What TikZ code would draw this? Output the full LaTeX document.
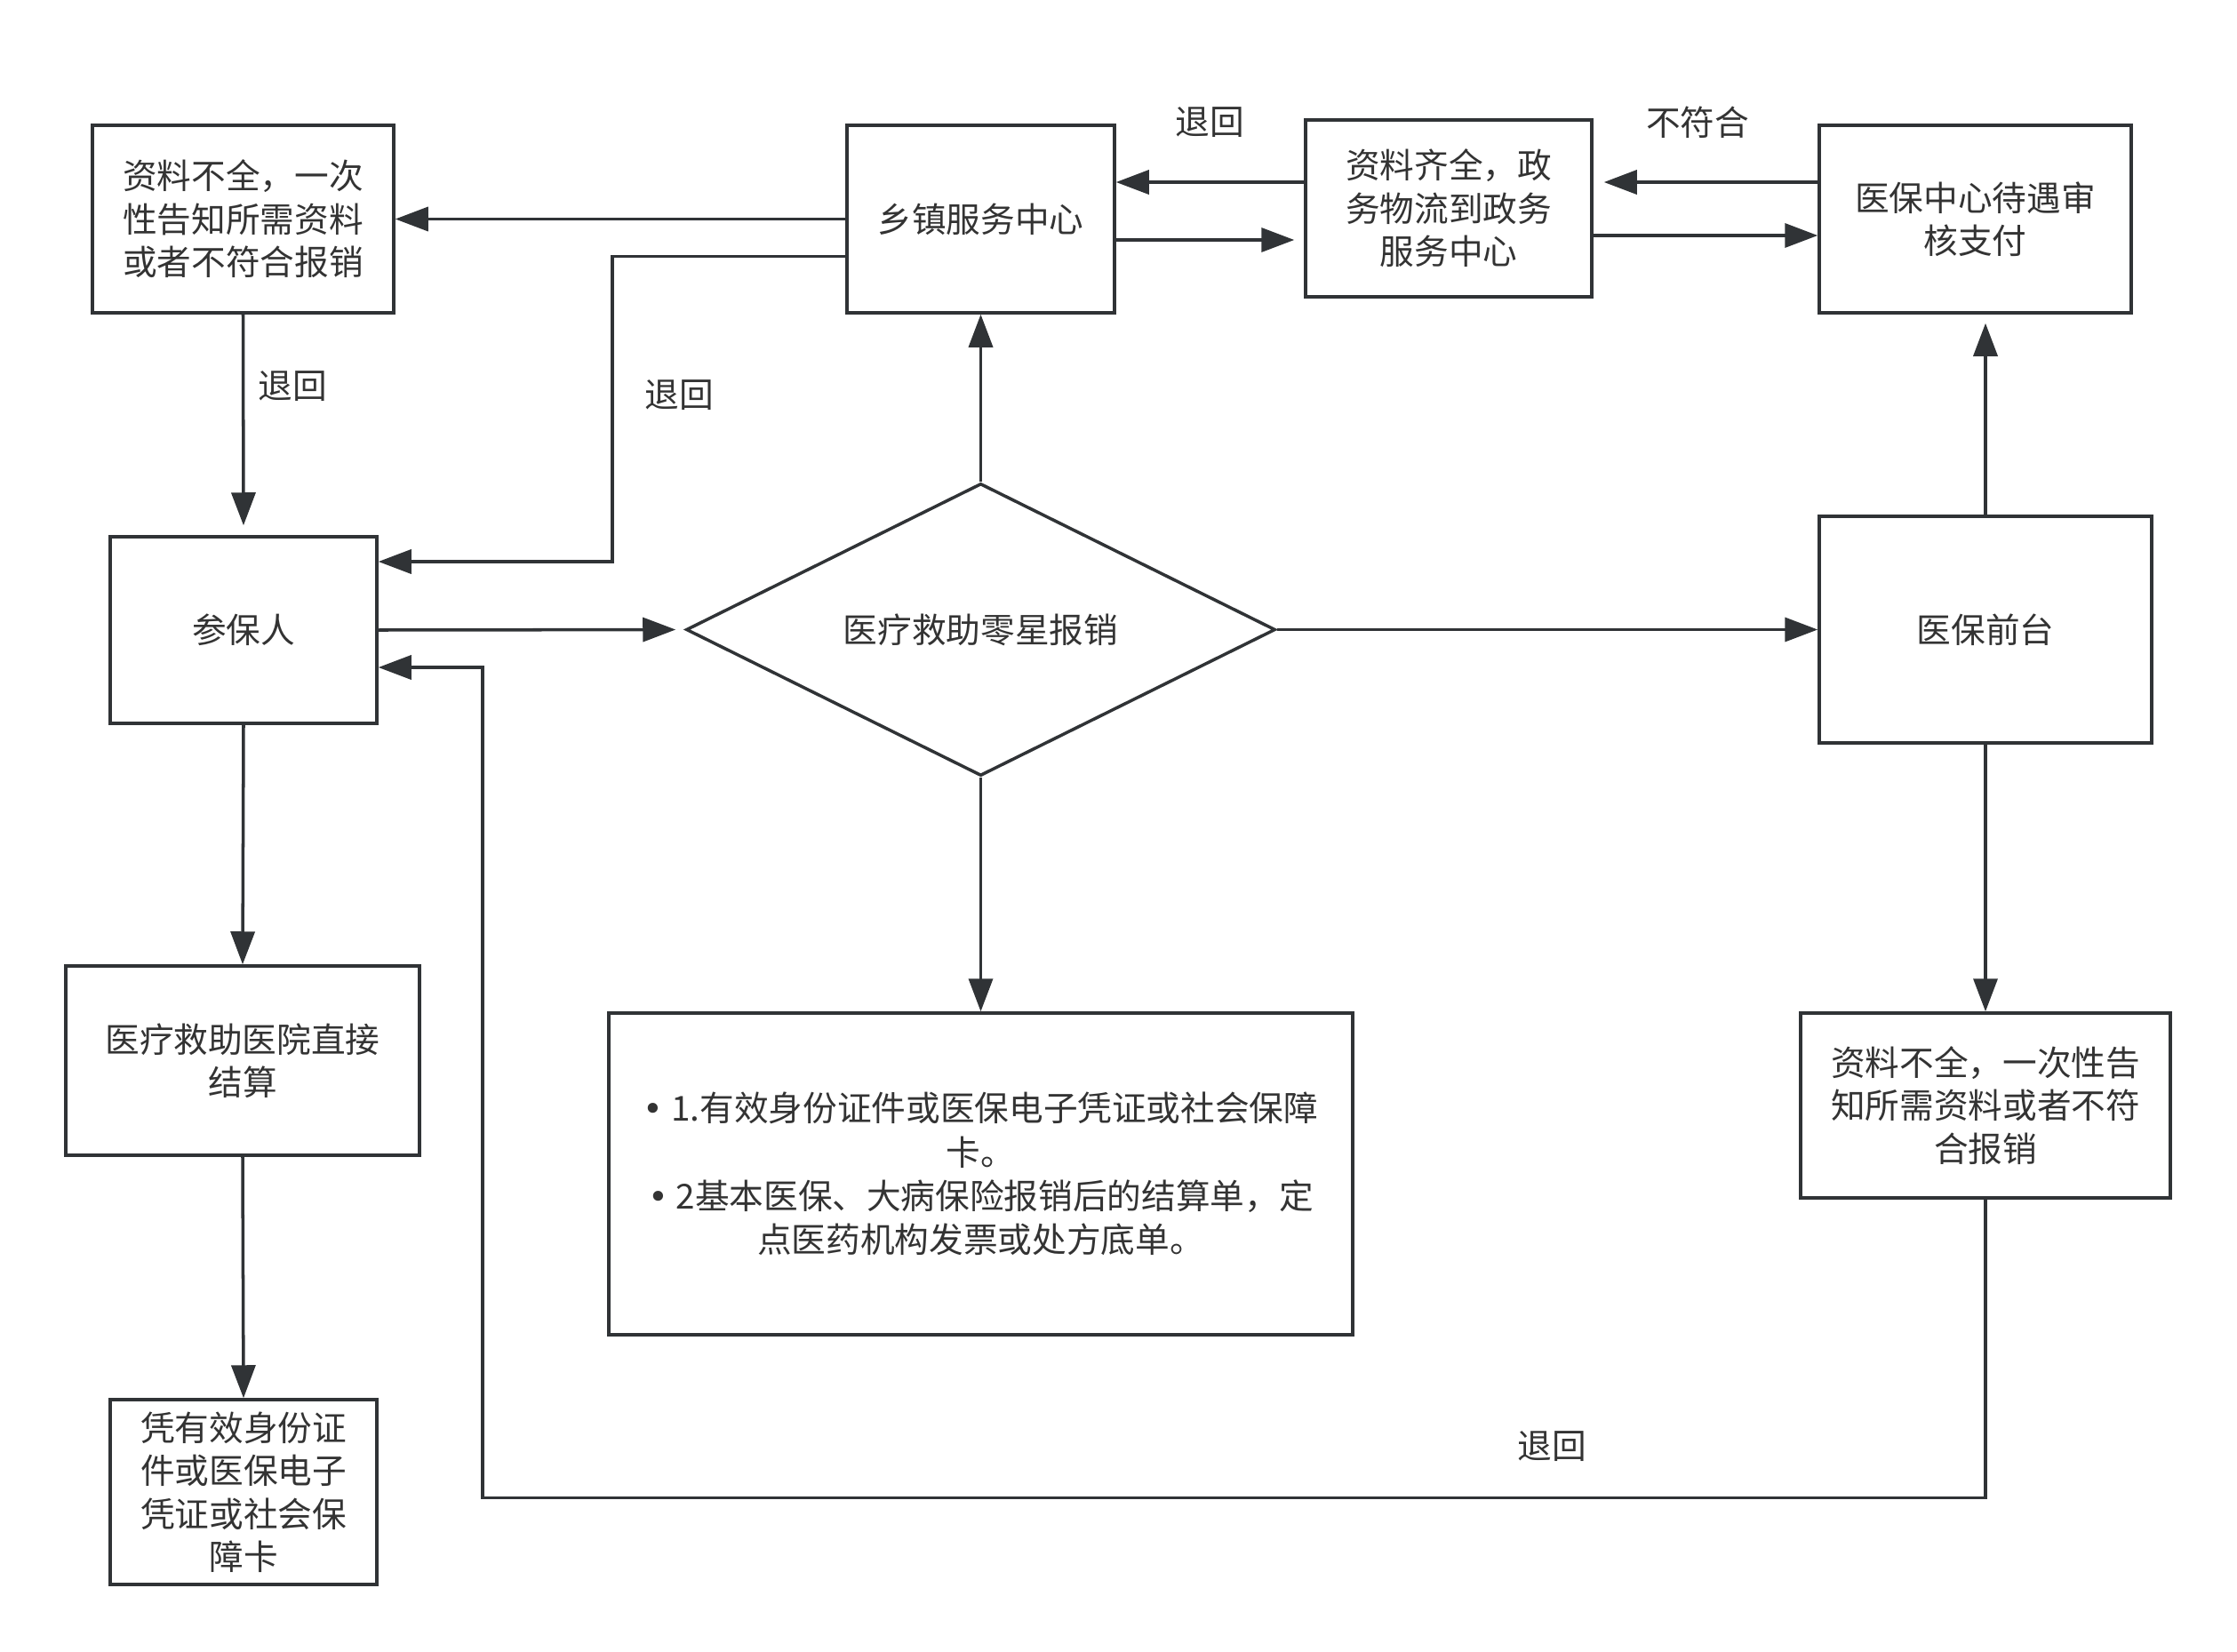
\documentclass[tikz,border=0pt]{standalone}
\usepackage{fontspec}
\setmainfont{Noto Sans CJK SC}
\newfontfamily\dotfont{DejaVu Sans}
\usepackage{xcolor}
\usepackage{tikz}
\usetikzlibrary{shapes.geometric, arrows.meta, positioning}
\definecolor{linegray}{HTML}{303336}
\definecolor{textgray}{HTML}{333333}
\newcommand{\pt}{{\dotfont •}\ }

\begin{document}
\begin{tikzpicture}[
        font=\fontsize{11pt}{13.8pt}\selectfont, text=textgray,
        box/.style={draw=linegray, line width=1pt, fill=white, align=center, inner sep=0pt},
        decision/.style={diamond, draw=linegray, line width=1pt, fill=white, aspect=2, inner sep=0pt, minimum width=6.63cm, minimum height=3.29cm},
        arr/.style={draw=linegray, line width=1pt, -{Triangle[length=0.37cm, width=0.27cm]}},
        lbl/.style={inner sep=1pt}
    ]
    \useasboundingbox (0,0) rectangle (25.17,-18.59);

    % boxes of the upper row
    \node[box, minimum width=3.39cm, minimum height=2.11cm] (gaozhi) at (2.735,-2.465) {资料不全，一次\\性告知所需资料\\或者不符合报销};
    \node[box, minimum width=3.01cm, minimum height=2.11cm] (xiangzhen) at (11.035,-2.465) {乡镇服务中心};
    \node[box, minimum width=3.22cm, minimum height=1.99cm] (zhengwu) at (16.30,-2.345) {资料齐全，政\\务物流到政务\\服务中心};
    \node[box, minimum width=3.51cm, minimum height=2.11cm] (shenhe) at (22.225,-2.465) {医保中心待遇审\\核支付};

    % middle row
    \node[box, minimum width=3.00cm, minimum height=2.10cm] (canbao) at (2.74,-7.09) {参保人};
    \node[decision] (lingxing) at (11.035,-7.085) {医疗救助零星报销};
    \node[box, minimum width=3.74cm, minimum height=2.55cm] (qiantai) at (22.34,-7.085) {医保前台};

    % lower part
    \node[box, minimum width=3.98cm, minimum height=2.13cm] (yiyuan) at (2.73,-11.935) {医疗救助医院直接\\结算};
    \node[box, minimum width=3.00cm, minimum height=2.08cm] (pingzheng) at (2.74,-16.79) {凭有效身份证\\件或医保电子\\凭证或社会保\\障卡};
    \node[box, minimum width=8.37cm, minimum height=3.62cm, font=\fontsize{11pt}{14pt}\selectfont] (cailiao) at (11.035,-13.21) {\pt 1.有效身份证件或医保电子凭证或社会保障\\卡。\\\pt 2基本医保、大病保险报销后的结算单，定\\点医药机构发票或处方底单。};
    \node[box, minimum width=4.16cm, minimum height=2.08cm] (buquan) at (22.34,-12.44) {资料不全，一次性告\\知所需资料或者不符\\合报销};

    \coordinate (zhe1) at (6.89,-6.32);
    \coordinate (zhe2) at (5.43,-16.855);

    % connectors
    \draw[arr] (xiangzhen.west) -- (gaozhi.east);
    \draw[arr] ([yshift=-4.2mm]xiangzhen.west) -| (zhe1) -- (zhe1 -| canbao.east);
    \draw[arr, shorten >=1.1mm] (gaozhi.south) -- (canbao.north);
    \draw[arr, shorten >=1mm] (canbao.east) -- (lingxing.west);
    \draw[arr] (lingxing.east) -- (qiantai.west);
    \draw[arr] (lingxing.north) -- (xiangzhen.south);
    \draw[arr] (lingxing.south) -- (cailiao.north);
    \draw[arr, shorten >=1.1mm] ([yshift=-2.35mm]xiangzhen.east) -- ([yshift=-2.35mm]xiangzhen.east -| zhengwu.west);
    \draw[arr] ([yshift=2.95mm]zhengwu.west) -- ([yshift=2.95mm]zhengwu.west -| xiangzhen.east);
    \draw[arr] ([yshift=-3.05mm]zhengwu.east) -- ([yshift=-3.05mm]zhengwu.east -| shenhe.west);
    \draw[arr, shorten >=1.2mm] ([yshift=4.15mm]shenhe.west) -- ([yshift=4.15mm]shenhe.west -| zhengwu.east);
    \draw[arr, shorten >=1mm] (qiantai.north) -- (qiantai.north |- shenhe.south);
    \draw[arr] (qiantai.south) -- (buquan.north);
    \draw[arr] (canbao.south) -- (yiyuan.north);
    \draw[arr] (yiyuan.south) -- (pingzheng.north);
    \draw[arr] (buquan.south) |- (zhe2) |- ([yshift=-4.2mm]canbao.east);

    % labels
    \node[lbl] (l1) at (3.29,-4.35) {退回};
    \node[lbl] (l2) at (7.64,-4.45) {退回};
    \node[lbl] (l3) at (13.61,-1.38) {退回};
    \node[lbl] (l4) at (19.10,-1.38) {不符合};
    \node[lbl] (l5) at (17.46,-16.28) {退回};
\end{tikzpicture}
\end{document}
